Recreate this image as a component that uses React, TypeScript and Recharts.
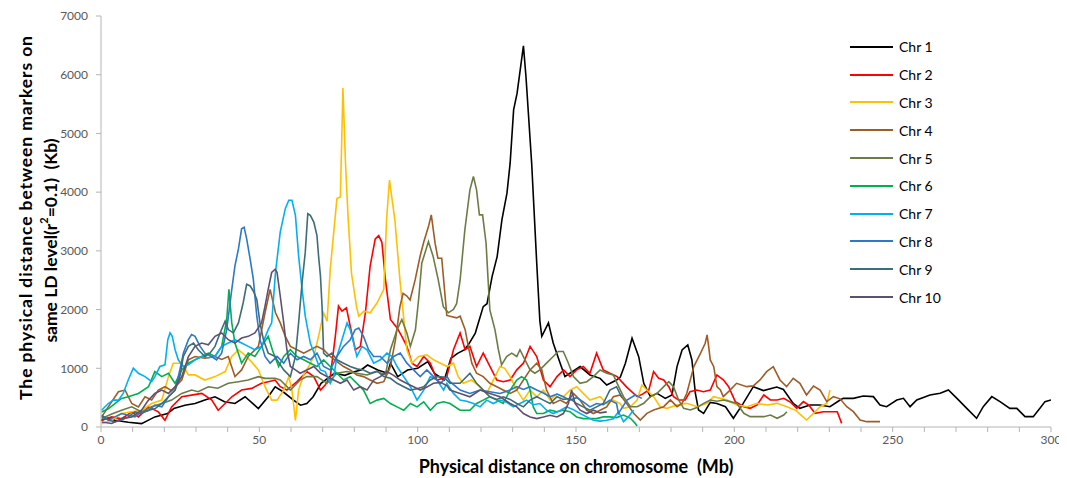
import React from 'react';
import { LineChart, Line, XAxis, YAxis } from 'recharts';

type Pt = [number, number];

// [position (Mb), distance (Kb)]
const chr1: Pt[] = [[0,114],[2.2,150],[4.4,114],[8.6,80],[12.8,57],[17,172],[21,229],[23,315],[26.5,372],[29.7,400],[32.8,458],[36,515],[39,429],[42.3,400],[45.5,515],[49.7,315],[52.8,515],[55,686],[57.5,600],[60.8,458],[63,372],[65,400],[67,515],[69.5,744],[73.7,914],[77,880],[80,940],[82.1,971],[84.2,1056],[87.4,971],[90.5,914],[91.4,1087],[93.7,858],[96.8,971],[100,1000],[103.2,1113],[105.3,914],[108.4,800],[110.5,1170],[112.6,1255],[114.7,1312],[116,1400],[118.2,1600],[120.7,2050],[121.9,2100],[123.5,2562],[125.1,2902],[126.6,3527],[128.2,3982],[129.2,4493],[130.3,5400],[131.4,5686],[133.4,6492],[134.2,5970],[136,4493],[137.6,2790],[138.6,1800],[139.2,1544],[141.3,1773],[142.8,1430],[145,1087],[146.5,858],[148.1,915],[151.3,1030],[154.4,887],[157.6,829],[159.7,715],[160.8,744],[162.8,800],[164,850],[165.6,1085],[167.7,1511],[169.8,1198],[171.4,744],[173.5,517],[175.6,574],[178.2,488],[180.3,545],[181.9,1028],[183.5,1312],[185.3,1397],[186.6,1142],[187.7,574],[188.7,290],[190.3,233],[192.4,420],[194.5,400],[197.2,346],[199.7,148],[202.8,403],[206,687],[209.2,620],[213.4,680],[215.5,640],[218.6,403],[220.7,318],[223.9,375],[227,375],[230.2,346],[233.4,460],[234.4,488],[237.6,488],[240.7,528],[243.9,517],[246,375],[248.1,346],[251.3,460],[253.4,488],[255.5,346],[257.6,460],[261.8,545],[265,574],[267.6,630],[270.3,488],[273.4,318],[276.5,148],[278.6,346],[281.3,517],[283.9,432],[287,318],[289.2,318],[291.8,176],[294.4,176],[296.5,318],[298.1,432],[300,460]];

const chr2: Pt[] = [[0.2,114],[3.4,172],[6.5,140],[9.7,257],[11.8,172],[15,343],[18.1,257],[20.2,114],[22.3,343],[25.5,515],[28.6,543],[31.8,572],[35,458],[37,286],[39.2,400],[41.3,515],[44.4,629],[47.6,658],[50.7,744],[52.8,772],[55,800],[56.6,686],[58.7,629],[61.9,772],[65,944],[67.2,858],[69.3,629],[70.8,715],[72.4,858],[74,1544],[75,2059],[76.1,1973],[77.5,2030],[78.7,1716],[80.3,1316],[81.9,1373],[83.5,1950],[85,2746],[86.6,3203],[87.7,3260],[88.7,3146],[89.8,2517],[91.4,1830],[93.5,1687],[95,1544],[96.6,1373],[98.2,1087],[99.8,1030],[101.9,1201],[104,1087],[106.1,800],[108.2,829],[109.2,858],[111.3,1316],[113.4,1602],[115,1316],[116.5,1373],[118.6,1030],[120.7,1258],[122.3,1087],[125,800],[127,772],[129.2,800],[131.3,973],[133.4,1087],[135.5,1373],[137.6,1201],[139.7,800],[141.8,686],[144,858],[146.1,973],[148.1,858],[150.2,973],[152.3,1030],[154.4,915],[156.5,1258],[158.6,973],[160.7,915],[163,858],[166,680],[169.3,517],[171,560],[173,630],[174.5,943],[176.1,829],[177.7,800],[179.3,687],[180.8,517],[182.4,460],[184.5,460],[186,602],[188.1,630],[190.2,600],[192.4,630],[194.5,886],[196.6,800],[198.2,687],[200.3,432],[203,346],[205,318],[207.2,375],[209.3,545],[211.4,460],[213.5,460],[215.6,488],[217.8,420],[219.7,318],[221.8,432],[223.5,375],[225.5,233],[228.1,261],[231.3,261],[232.5,261],[233.9,62]];

const chr3: Pt[] = [[0.2,57],[3.4,120],[6.5,229],[9.7,260],[12.8,286],[16,400],[19.2,458],[21.3,858],[22.8,1087],[25.5,1087],[27.6,887],[29.7,887],[32.8,800],[36,858],[39.2,944],[41.3,1201],[43.4,1316],[46.5,1173],[49.7,972],[51.8,686],[53.9,458],[55.6,458],[57.7,629],[59.3,858],[60.3,629],[61.4,114],[62.4,629],[64,887],[65.6,1030],[67.2,1201],[68.7,1544],[70.3,1945],[71.4,1802],[72.4,2688],[73.5,3318],[74.5,3890],[75.6,3918],[76.4,5773],[77.2,4500],[78,3600],[79.1,2618],[80.7,2050],[81.4,1887],[83,1973],[85,1945],[87.2,2116],[89.3,2345],[90.2,3546],[91.1,4206],[92.8,3527],[94.4,2505],[95.5,1900],[96.6,1316],[98.2,1087],[100.3,1201],[102.9,1230],[105,1144],[107.2,1087],[109.3,1030],[111.3,1087],[112.8,858],[114.4,744],[117,800],[119.7,686],[121.8,572],[123.9,800],[126,1030],[127.5,1000],[129.2,858],[131.3,629],[133.4,458],[135.5,629],[137.6,515],[139.7,629],[141.8,458],[144,560],[146,515],[148.1,629],[150.2,686],[152.3,572],[154.4,458],[157.6,515],[159.7,400],[161.8,458],[163.9,400],[165,318],[167.2,346],[169.3,460],[170.8,716],[172.4,630],[174.5,517],[176.6,346],[178.7,318],[181.9,375],[185,403],[188.2,346],[191.4,403],[193.4,517],[197.7,460],[200.8,375],[204,346],[207.2,403],[210.3,375],[213.5,403],[216.6,346],[219.5,280],[221.5,180],[222.8,119],[225,233],[227.1,346],[229.2,403],[230.2,630]];

const chr4: Pt[] = [[0.2,172],[2.3,343],[5.5,600],[7.6,629],[9.7,400],[11.8,343],[13.9,515],[16,460],[18.1,629],[20.2,686],[22.3,620],[25.5,800],[27.6,1144],[29.7,1201],[32.8,1170],[36,1201],[38.1,1150],[40.2,1201],[42.3,858],[44.4,972],[46.5,1201],[49.7,1373],[51.8,1945],[53.4,2345],[55.1,1945],[56.6,1773],[58.2,1544],[59.8,1373],[61.9,1316],[64,1258],[66.1,1316],[68.2,1373],[70.3,1316],[72.4,1201],[74.5,1115],[76.6,1030],[78.7,972],[80.8,887],[82.9,858],[85,800],[87.2,744],[89.3,772],[91.4,1030],[93,1487],[94.4,2050],[95.4,2278],[96.6,2230],[97.6,2164],[99.2,2505],[100.8,2917],[101.9,3146],[103.5,3432],[104.3,3612],[105.5,3130],[106.4,2874],[107.6,2874],[109.2,1900],[110.2,1887],[112.3,1859],[113.4,1887],[115,1659],[116,1373],[117.1,1087],[118.6,915],[120.7,858],[122.8,744],[125,686],[127,629],[129.2,572],[131.3,629],[133.4,800],[135.5,972],[137.6,1087],[139.2,972],[140.7,629],[142.8,400],[145,458],[147,400],[149.2,572],[151.3,458],[153.4,286],[155.5,229],[157.6,286],[159.7,343],[161.8,515],[164,545],[166,400],[168.2,233],[170.3,119],[172.4,233],[174.5,290],[177.7,346],[179.8,460],[181.9,346],[183.5,403],[185,574],[187.2,1028],[189.3,1255],[190.8,1426],[191.4,1568],[191.9,1369],[192.4,1142],[193.5,1028],[194.5,687],[195.6,630],[196.5,517],[198.5,620],[200.7,744],[203.9,687],[206,700],[208.1,801],[210.2,943],[212.3,1028],[214.4,801],[216.5,687],[218.6,829],[220.7,744],[222.8,545],[225,699],[227.1,630],[229.2,432],[231.3,517],[233.4,480],[235.5,346],[237.6,261],[239.7,119],[241.8,91],[244,91],[246,91]];

const chr5: Pt[] = [[0.2,143],[3.4,220],[6.5,286],[9.7,343],[12.8,257],[16,343],[19.2,400],[22.3,458],[25.5,572],[28.6,629],[30.7,600],[33.9,686],[36.9,660],[40.2,744],[43.4,772],[46.5,800],[49.7,858],[51.8,829],[55,829],[56.6,800],[59.8,629],[62.9,800],[65,858],[68.2,858],[71.4,744],[74.5,915],[77.7,944],[80.8,915],[84,887],[87.2,944],[89.8,887],[91.4,1316],[93.5,1659],[95,1830],[96.6,1602],[97.7,1373],[99.3,1659],[100.3,2173],[101.3,2789],[103.4,3158],[104.9,2902],[106.5,2505],[108.1,2050],[109.7,1945],[111.3,2002],[112.3,2100],[113.4,2500],[114.9,3357],[116.5,4038],[117.6,4266],[118.6,4038],[119.5,3612],[120.5,3612],[121.6,3130],[122.3,2448],[122.8,1994],[124.4,1659],[125.5,1316],[126.5,1058],[128.1,1201],[129.7,1258],[131.3,1201],[132.3,1316],[133.9,1144],[135.5,972],[137,915],[138.6,972],[140.7,1087],[142.8,1201],[144.4,1287],[146,1287],[147.6,1087],[149.2,858],[151.3,744],[153.4,772],[155.5,858],[157.6,972],[159.7,915],[161.8,887],[163,744],[165,517],[167.2,346],[169.3,346],[171.4,403],[173.5,517],[175.6,574],[177.7,687],[179.3,772],[180.8,687],[182.4,460],[184,318],[186.1,290],[188.2,330],[190.3,403],[192.4,460],[194.5,440],[196.6,460],[198.7,432],[200.8,400],[203,233],[205,176],[207.2,176],[209.3,176],[211.4,204],[213.5,148],[215.6,204],[216.6,261]];

const chr6: Pt[] = [[0.2,257],[2.3,310],[4.4,400],[6.5,486],[8.6,515],[11.8,572],[15,686],[17,944],[19.2,858],[21.3,915],[23.4,744],[25.5,972],[27.6,1087],[29.7,1144],[31.8,1201],[33.9,1258],[36,1201],[38.1,1373],[39.7,1830],[40.4,2345],[41.3,1773],[42.3,1430],[44.4,1087],[46.5,1258],[48.6,1201],[50.7,1373],[52.8,1544],[54.2,1300],[56.1,1030],[57.7,1201],[59.8,1316],[61.9,1201],[64,1144],[66.1,1087],[68.2,1030],[70.3,1144],[72.4,1030],[74.5,915],[76.6,800],[78.7,858],[80.8,744],[82.9,629],[85,400],[87.2,458],[89.3,486],[91.4,400],[93.5,343],[95.6,286],[97.7,400],[99.8,343],[101.9,429],[104,286],[106.1,400],[108.2,429],[110.2,400],[113.4,286],[116.5,286],[118.6,400],[120.7,458],[122.8,515],[125,458],[127,400],[129.2,629],[131.3,800],[132.8,858],[134.4,800],[135.5,629],[136.5,343],[137.6,229],[139.7,229],[141.8,286],[144,260],[146,286],[148.1,260],[150.2,172],[152.3,143],[154.4,143],[156.5,143],[158.6,172],[160.7,172],[162.8,160],[165,204],[167.2,148],[168.7,62],[169.3,17]];

const chr7: Pt[] = [[0.2,286],[2.3,400],[3.9,458],[5.5,458],[7,572],[8.6,800],[10.2,1001],[11.8,915],[13.9,858],[16,772],[17,858],[18.6,1030],[20.2,1058],[21.1,1487],[21.8,1602],[22.5,1544],[23.4,1316],[24.4,1144],[26,1030],[27.6,1058],[29.7,1144],[31.8,1201],[33.9,1180],[36,1201],[38.1,1373],[40.2,1430],[42.3,1487],[44.4,1430],[46.5,1373],[48.6,1316],[50.7,1373],[52.8,1659],[53.9,1773],[55.1,2631],[56.6,3318],[58.2,3718],[59.3,3861],[60.3,3861],[61.4,3604],[62.4,2917],[63.5,2345],[64.5,1887],[66.1,1430],[67.7,1201],[69.3,972],[70.8,944],[72.4,744],[73.5,858],[74.5,1201],[76.1,1487],[77.7,1773],[78.7,1659],[79.8,1430],[80.8,1201],[82.4,1373],[84,1316],[86.1,1087],[88.2,1144],[90.3,1258],[91.9,1201],[93.5,1030],[95.6,858],[97.7,686],[99.8,458],[101.9,629],[104,858],[106.1,800],[108.2,629],[109.2,744],[111.3,572],[113.4,458],[115.5,440],[117.6,400],[119.7,343],[121.8,458],[123.9,400],[126,458],[128.1,420],[130.2,343],[132.3,400],[134.4,458],[136.5,380],[138.6,400],[140.7,286],[142.8,229],[145,280],[147,343],[149,300],[151.3,229],[153.4,172],[155.5,114],[157.6,100],[159.7,114],[161.8,140],[163.4,260],[165,91],[166.6,176],[168.2,290]];

const chr8: Pt[] = [[0.2,172],[2.3,120],[4.4,172],[6.5,229],[8.6,200],[10.7,172],[12.8,257],[15,280],[17,372],[19.2,343],[21.3,515],[23.4,629],[24.9,972],[26,1258],[27.6,1487],[28.6,1573],[29.7,1544],[31.3,1373],[32.8,1258],[34.9,1201],[36.5,1144],[38.1,1258],[39.7,1659],[41.3,2345],[42.3,2746],[43.4,3032],[44.4,3375],[45.2,3403],[46,3203],[47.1,2860],[48.1,2517],[49.2,1887],[50.2,1487],[51.8,1201],[53.4,1087],[55.6,1201],[57.7,1087],[59.8,1258],[61.9,1144],[64,1201],[66.1,1144],[68.2,1258],[70.3,1030],[72.4,972],[74.5,1201],[76.6,1373],[78.7,1487],[80.3,1659],[81.4,1687],[82.9,1544],[84.5,1316],[86.1,1201],[88.2,1201],[90.3,1087],[92.4,1201],[94.5,1258],[96.6,1087],[98.7,972],[100.8,858],[102.9,972],[105,858],[107.2,744],[109.3,858],[110.2,772],[113.4,629],[116.5,572],[119.7,629],[122.8,600],[126,572],[129.2,629],[131.3,686],[133.4,640],[135.5,686],[137.6,629],[139.7,580],[141.8,515],[144,560],[146,515],[148.1,458],[150.2,500],[152.3,429],[154.4,343],[156.5,400],[158.6,380],[160.7,458],[162.8,400],[163.4,233],[166.1,460],[168.7,545],[170.8,488]];

const chr9: Pt[] = [[0.2,200],[2.3,120],[4.4,86],[6.5,120],[8.6,172],[10.7,257],[12.8,230],[15,286],[17,310],[19.2,400],[21.3,515],[23.4,629],[24.9,858],[26,1201],[27.6,1373],[29.2,1430],[30.7,1316],[32.8,1201],[34.4,1258],[36,1373],[37.6,1602],[39.2,1802],[40.2,1659],[41.8,1602],[43.4,1773],[44.9,2116],[46,2431],[47.1,2402],[48.1,2317],[49.2,2173],[50.2,1773],[51.3,1487],[52.8,1258],[55,1201],[55.6,1144],[57.7,972],[59.8,858],[61.4,1201],[62.4,1773],[63.5,2460],[64.5,2974],[65.3,3632],[66.1,3604],[67.2,3489],[68.2,3260],[68.7,2917],[69.3,2574],[69.8,2059],[70.3,1258],[71.4,1201],[72.9,1258],[74.5,1144],[76.6,1087],[78.7,1030],[80.8,990],[82.9,972],[85,915],[87.2,950],[89.3,858],[91.4,830],[93.5,744],[95.6,686],[97.7,629],[99.8,650],[101.9,686],[104,800],[106.1,858],[108.2,850],[110.2,744],[113.4,744],[116.5,915],[118.6,744],[120.7,629],[122.8,515],[125,470],[127,515],[129.2,470],[131.3,400],[133.4,343],[135.5,458],[137.6,515],[139.7,458],[141.8,400],[144,515],[146,470],[148.1,486],[150.2,400],[152.3,343],[154.4,286],[156.5,343],[158.6,400],[160.7,629],[162.8,686],[164.5,500]];

const chr10: Pt[] = [[0.2,86],[3.4,60],[6.5,143],[9.7,170],[12.8,286],[15,458],[17,572],[19.2,629],[21.3,572],[23.4,686],[25.5,858],[27.6,1201],[29.7,1373],[31.8,1430],[33.9,1400],[36,1544],[38.1,1602],[40.2,1487],[42.3,1430],[44.4,1516],[46.5,1544],[48.6,1602],[50.7,1773],[51.8,2059],[52.8,2345],[53.9,2631],[55,2688],[55.6,2631],[56.6,2231],[57.7,1773],[58.7,1316],[59.8,1030],[61.4,972],[62.9,915],[65,972],[67.2,1030],[69.3,920],[71.4,858],[73.5,800],[75.6,744],[77.7,800],[79.8,629],[81.9,686],[84,629],[86.1,800],[88.2,858],[90.3,944],[92.4,880],[94.5,800],[96.6,740],[98.7,686],[100.8,629],[102.9,680],[105,744],[107.2,760],[109.3,700],[110.2,629],[113.4,572],[116.5,515],[119.7,629],[122.8,572],[126,515],[129.2,400],[131.3,343],[133.4,229],[135.5,172],[137.6,143],[139.7,170],[141.8,200],[144,170],[146,229],[147.6,400],[148.6,629],[149.7,400],[151.3,286],[153.4,229],[155.5,286],[157.6,240],[159.7,257]];

const seriesNames = ['Chr 1', 'Chr 2', 'Chr 3', 'Chr 4', 'Chr 5', 'Chr 6', 'Chr 7', 'Chr 8', 'Chr 9', 'Chr 10'];
const seriesColors = ['#000000', '#ff0000', '#ffc000', '#9e5d27', '#6b7d45', '#00b050', '#00b0f0', '#2e78c8', '#3d6d76', '#605070'];
const seriesPoints = [chr1, chr2, chr3, chr4, chr5, chr6, chr7, chr8, chr9, chr10];

const xTicks = [0, 10, 20, 30, 40, 50, 60, 70, 80, 90, 100, 110, 120, 130, 140, 150, 160, 170, 180, 190, 200, 210, 220, 230, 240, 250, 260, 270, 280, 290, 300];
const xLabels = [0, 50, 100, 150, 200, 250, 300];
const yTicks = [0, 1000, 2000, 3000, 4000, 5000, 6000, 7000];

const FONT = 'Lato, "Liberation Sans", sans-serif';
const AXIS_GRAY = '#b4b4b4';
const TICK_GRAY = '#595959';

const series = seriesNames.map((name, i) => ({
  name,
  color: seriesColors[i],
  data: seriesPoints[i].map(([x, y]) => ({ x, y })),
}));

const YTitle = (props: any) => {
  const vb = props.viewBox || { x: 0, y: 0, width: 0, height: 0 };
  const cy = vb.y + vb.height / 2;
  return (
    <g fontFamily={FONT} fontWeight={700} fontSize={17.5} fill="#000">
      <text x={17} y={cy - 4} textAnchor="middle" dominantBaseline="central" letterSpacing={0.9}
        transform={`rotate(-90 17 ${cy - 4})`}>
        The physical distance between markers on
      </text>
      <text x={42} y={cy + 19} textAnchor="middle" dominantBaseline="central" xmlSpace="preserve"
        transform={`rotate(-90 42 ${cy + 19})`}>
        {'same LD level(r'}<tspan baselineShift="super" fontSize={11}>2</tspan>{'=0.1)\u00a0\u00a0(Kb)'}
      </text>
    </g>
  );
};

const XTitle = (props: any) => {
  const vb = props.viewBox || { x: 0, y: 0, width: 0, height: 0 };
  return (
    <text x={vb.x + vb.width / 2} y={vb.y + 39} textAnchor="middle" dominantBaseline="central"
      fontFamily={FONT} fontWeight={700} fontSize={18} fill="#000">
      {'Physical distance on chromosome\u00a0\u00a0(Mb)'}
    </text>
  );
};

const LegendBox = () => (
  <div style={{ position: 'absolute', left: 842, top: 25, fontFamily: FONT, fontSize: 14, color: '#000' }}>
    {series.map((s) => (
      <div key={s.name} style={{ display: 'flex', alignItems: 'center', height: 27.8 }}>
        <div style={{ width: 43, height: 2, background: s.color, marginRight: 6 }} />
        <span>{s.name}</span>
      </div>
    ))}
  </div>
);

export default function App() {
  return (
    <div style={{ position: 'relative', width: 1059, height: 470, background: '#fff' }}>
      <LineChart width={1059} height={470} margin={{ top: 8, right: 16, bottom: 0, left: 0 }}>
        <XAxis
          dataKey="x"
          type="number"
          domain={[0, 300]}
          ticks={xTicks}
          interval={0}
          tickFormatter={(v: number) => (xLabels.includes(v) ? String(v) : '')}
          height={51}
          stroke={AXIS_GRAY}
          tickSize={5}
          tickMargin={3}
          tick={{ fill: TICK_GRAY, fontSize: 12, fontFamily: FONT }}
          allowDataOverflow
          label={<XTitle />}
        />
        <YAxis
          type="number"
          domain={[0, 7000]}
          ticks={yTicks}
          interval={0}
          width={93}
          stroke={AXIS_GRAY}
          tickSize={5}
          tickMargin={8}
          tick={{ fill: TICK_GRAY, fontSize: 12, fontFamily: FONT }}
          label={<YTitle />}
        />
        {series.map((s) => (
          <Line
            key={s.name}
            data={s.data}
            dataKey="y"
            name={s.name}
            type="linear"
            stroke={s.color}
            strokeWidth={1.6}
            dot={false}
            activeDot={false}
            isAnimationActive={false}
          />
        ))}
      </LineChart>
      <LegendBox />
    </div>
  );
}
